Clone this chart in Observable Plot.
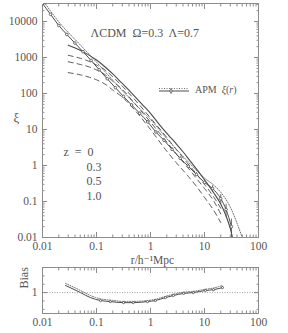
<!DOCTYPE html>
<html><head><meta charset="utf-8">
<script src="https://cdn.jsdelivr.net/npm/d3@7"></script>
<script src="https://cdn.jsdelivr.net/npm/@observablehq/plot@0.6"></script>
<style>
body{margin:0;background:#fff;}
#wrap{position:relative;width:288px;height:333px;font-family:"Liberation Serif","DejaVu Serif",serif;color:#555;}
#wrap svg{display:block}
#legend{position:absolute;left:158px;top:84px;font-size:10px;color:#555;display:flex;align-items:center;white-space:nowrap}
</style></head><body><div id="wrap"><div id="legend"></div></div>
<script>
// ---- data ----
const apmR   = [0.01,0.0141,0.02,0.0282,0.0398,0.0562,0.0794,0.112,0.158,0.224,0.316,0.447,0.631,0.891,1.26,1.78,2.51,3.55,5.01,7.08,10,14.1,20,25.1,31.6];
const apmXi  = [31600,15800,7760,4370,2510,1450,832,457,257,145,83,47.9,28.2,16.2,8.5,5.0,2.82,1.58,0.955,0.562,0.339,0.229,0.120,0.060,0.020];
const apmErr = [0.05,0.05,0.05,0.05,0.05,0.05,0.06,0.06,0.06,0.06,0.07,0.07,0.07,0.08,0.08,0.08,0.09,0.1,0.1,0.12,0.15,0.2,0.3,0.4,0.6];
const apmUpR  = [0.01,0.02,0.05,0.1,0.2,0.5,1,2,5,10,15,20,30,40,50];
const apmUpXi = [40000,9800,2240,740,234,54,19,5.6,1.26,0.45,0.28,0.18,0.07,0.025,0.01];
const modelR  = [0.03,0.05,0.07,0.1,0.15,0.2,0.3,0.43,0.7,1,1.5,2.35,3,4.1,5.5,7.5,10,15,20,25,30,33];
const xiZ0    = [2200,1600,1200,850,520,350,190,110,50,28,13,6,4,2.3,1.3,0.72,0.4,0.17,0.085,0.04,0.018,0.01];
const dashR   = [0.03,0.05,0.07,0.1,0.15,0.2,0.3,0.5,1,2,3,5,7,10,15,20];
const xiZ03   = [1150,950,800,620,430,290,160,70,21,6,2.8,1.1,0.6,0.3,0.13,0.065];
const xiZ05   = [760,640,560,450,320,220,130,55,16,4.5,2.1,0.85,0.45,0.23,0.1,0.045];
const xiZ10   = [380,330,290,240,175,125,80,36,10,2.5,1.2,0.5,0.27,0.13,0.055,0.026];
const biasR     = [0.0267,0.0506,0.077,0.119,0.18,0.316,0.48,0.88,1.23,1.89,2.65,4.1,6.2,10.4,14.7,21.5];
const bias      = [1.17,1.0,0.88,0.81,0.785,0.76,0.76,0.785,0.81,0.88,0.93,0.98,1.0,1.05,1.07,1.12];
const biasUpper = [1.22,1.05,0.93,0.85,0.82,0.79,0.79,0.81,0.84,0.91,0.96,1.01,1.03,1.08,1.11,1.17];
const biasErr   = [0,0,0,0.01,0.01,0.01,0.01,0.01,0.01,0.01,0.01,0.015,0.015,0.02,0.025,0.03];
const xTicks = [0.01,0.1,1,10,100];
const xTickLabels = ["0.01","0.1","1","10","100"];
const yTicks = [0.01,0.1,1,10,100,1000,10000];
const yTickLabels = ["0.01","0.1","1","10","100","1000","10000"];
const zLabels = ["z  =  0","0.3","0.5","1.0"];
const title = "ΛCDM  Ω=0.3  Λ=0.7";
const xLabel = "r/h⁻¹Mpc";
const yLabel = "ξ";
const biasTicks = [1];
const biasMinor = [0.6,0.8,1.2,1.4];

// ---- helpers ----
const FONT = '"Liberation Serif","DejaVu Serif",serif';
const INK = "#4a4a4a";
const AX = "#8c8c8c";
function minors(decs){const m=[];for(const d of decs)for(let k=2;k<=9;k++)m.push(+(d*k).toPrecision(3));return m;}
const xMinor = minors([0.01,0.1,1,10]);
const yMinor = minors([0.01,0.1,1,10,100,1000,10000]).filter(v=>v<31623);
const blank = () => "";
function tickAxes(xs, xsMinor, ys, ysMinor){
  return [
    Plot.axisX(xs,{anchor:"bottom",tickSize:-5,tickFormat:blank,label:null,stroke:AX}),
    Plot.axisX(xsMinor,{anchor:"bottom",tickSize:-2.5,tickFormat:blank,label:null,stroke:AX}),
    Plot.axisX(xs,{anchor:"top",tickSize:-5,tickFormat:blank,label:null,stroke:AX}),
    Plot.axisX(xsMinor,{anchor:"top",tickSize:-2.5,tickFormat:blank,label:null,stroke:AX}),
    Plot.axisY(ys,{anchor:"left",tickSize:-5,tickFormat:blank,label:null,stroke:AX}),
    Plot.axisY(ysMinor,{anchor:"left",tickSize:-2.5,tickFormat:blank,label:null,stroke:AX}),
    Plot.axisY(ys,{anchor:"right",tickSize:-5,tickFormat:blank,label:null,stroke:AX}),
    Plot.axisY(ysMinor,{anchor:"right",tickSize:-2.5,tickFormat:blank,label:null,stroke:AX})
  ];
}
const apm = apmR.map((r,i)=>({r, xi:apmXi[i], lo:apmXi[i]*(1-apmErr[i]), hi:apmXi[i]*(1+apmErr[i])}));
const apmUp = apmUpR.map((r,i)=>({r, xi:apmUpXi[i]}));
const z0 = modelR.map((r,i)=>({r, xi:xiZ0[i]}));
const dashed = [xiZ03,xiZ05,xiZ10].flatMap((arr,k)=>dashR.map((r,i)=>({r, xi:arr[i], z:k})));
const biasD = biasR.map((r,i)=>({r, b:bias[i], bu:biasUpper[i], lo:bias[i]-biasErr[i], hi:bias[i]+biasErr[i]}));

const main = Plot.plot({
  width:288, height:262, marginTop:3, marginLeft:42, marginRight:30, marginBottom:25,
  style:{fontFamily:FONT, fontSize:"11.5px", color:"#555", background:"transparent", overflow:"visible"},
  x:{type:"log", domain:[0.01,100], axis:null},
  y:{type:"log", domain:[0.01,31623], axis:null},
  marks:[
    Plot.frame({stroke:AX}),
    ...tickAxes(xTicks,xMinor,yTicks,yMinor),
    Plot.axisX(xTicks,{anchor:"bottom",tickSize:0,tickPadding:4,tickFormat:d=>xTickLabels[xTicks.indexOf(d)],label:null,fill:"#555",fontSize:11.5}),
    Plot.axisY(yTicks,{anchor:"left",tickSize:0,tickPadding:5,tickFormat:d=>yTickLabels[yTicks.indexOf(d)],label:null,fill:"#555",fontSize:11.5}),
    Plot.line(apmUp,{x:"r",y:"xi",stroke:INK,strokeWidth:0.8,strokeDasharray:"1,1.5",curve:"monotone-x",clip:true}),
    Plot.line(dashed,{x:"r",y:"xi",z:"z",stroke:INK,strokeWidth:0.9,strokeDasharray:"5,4",curve:"monotone-x",clip:true}),
    Plot.line(z0,{x:"r",y:"xi",stroke:INK,strokeWidth:1.1,curve:"monotone-x",clip:true}),
    Plot.line(apm,{x:"r",y:"xi",stroke:INK,strokeWidth:1,curve:"monotone-x",clip:true}),
    Plot.ruleX(apm,{x:"r",y1:"lo",y2:"hi",stroke:INK,strokeWidth:0.8,clip:true}),
    Plot.dot(apm,{x:"r",y:"xi",r:1.3,stroke:INK,strokeWidth:0.8,fill:"white",clip:true}),
    Plot.text([title],{frameAnchor:"top-left",dx:48,dy:25,textAnchor:"start",fill:"#555",fontSize:12}),
    ...zLabels.map((t,i)=>Plot.text([t],{frameAnchor:"top-left",dx:i===0?21:44,dy:144+i*14.7,textAnchor:"start",fill:"#555",fontSize:12})),
    Plot.text([xLabel],{frameAnchor:"bottom",dx:2,dy:26,fill:"#555",fontSize:11.5}),
    Plot.text([yLabel],{frameAnchor:"left",dx:-29,dy:-3,fill:"#555",fontSize:13})
  ]
});

const lower = Plot.plot({
  width:288, height:71, marginTop:5, marginLeft:42, marginRight:30, marginBottom:20,
  style:{fontFamily:FONT, fontSize:"11.5px", color:"#555", background:"transparent", overflow:"visible"},
  x:{type:"log", domain:[0.01,100], axis:null},
  y:{domain:[0.5,1.6], axis:null},
  marks:[
    Plot.frame({stroke:AX}),
    ...tickAxes(xTicks,xMinor,biasTicks,biasMinor),
    Plot.axisX(xTicks,{anchor:"bottom",tickSize:0,tickPadding:4,tickFormat:d=>xTickLabels[xTicks.indexOf(d)],label:null,fill:"#555",fontSize:11.5}),
    Plot.axisY(biasTicks,{anchor:"left",tickSize:0,tickPadding:5,tickFormat:d=>String(d),label:null,fill:"#555",fontSize:11.5}),
    Plot.ruleY([1],{stroke:"#777",strokeWidth:0.7,strokeDasharray:"1,1.5"}),
    Plot.line(biasD,{x:"r",y:"bu",stroke:INK,strokeWidth:0.8,strokeDasharray:"1,1.5",curve:"monotone-x"}),
    Plot.line(biasD,{x:"r",y:"b",stroke:INK,strokeWidth:1,curve:"monotone-x"}),
    Plot.ruleX(biasD.filter(d=>d.r>0.1),{x:"r",y1:"lo",y2:"hi",stroke:INK,strokeWidth:0.8}),
    Plot.dot(biasD.filter(d=>d.r>0.1),{x:"r",y:"b",r:1.1,stroke:INK,strokeWidth:0.8,fill:"white"}),
    Plot.text(["Bias"],{frameAnchor:"left",dx:-18,dy:-2,rotate:-90,fill:"#555",fontSize:12})
  ]
});

const wrap = document.getElementById("wrap");
wrap.appendChild(main);
wrap.appendChild(lower);

// legend
const leg = document.getElementById("legend");
leg.innerHTML = `<svg width="32" height="10" style="display:inline-block;margin-right:5px">
<line x1="1" y1="3.5" x2="31" y2="3.5" stroke="${INK}" stroke-width="0.8" stroke-dasharray="1,1.5"/>
<line x1="1" y1="6" x2="31" y2="6" stroke="${INK}" stroke-width="1"/>
<line x1="13" y1="3" x2="13" y2="9" stroke="${INK}" stroke-width="0.8"/>
<circle cx="13" cy="6" r="1.3" fill="white" stroke="${INK}" stroke-width="0.8"/></svg><span>APM&nbsp; <i>ξ</i>(<i>r</i>)</span>`;
</script>
</body></html>
